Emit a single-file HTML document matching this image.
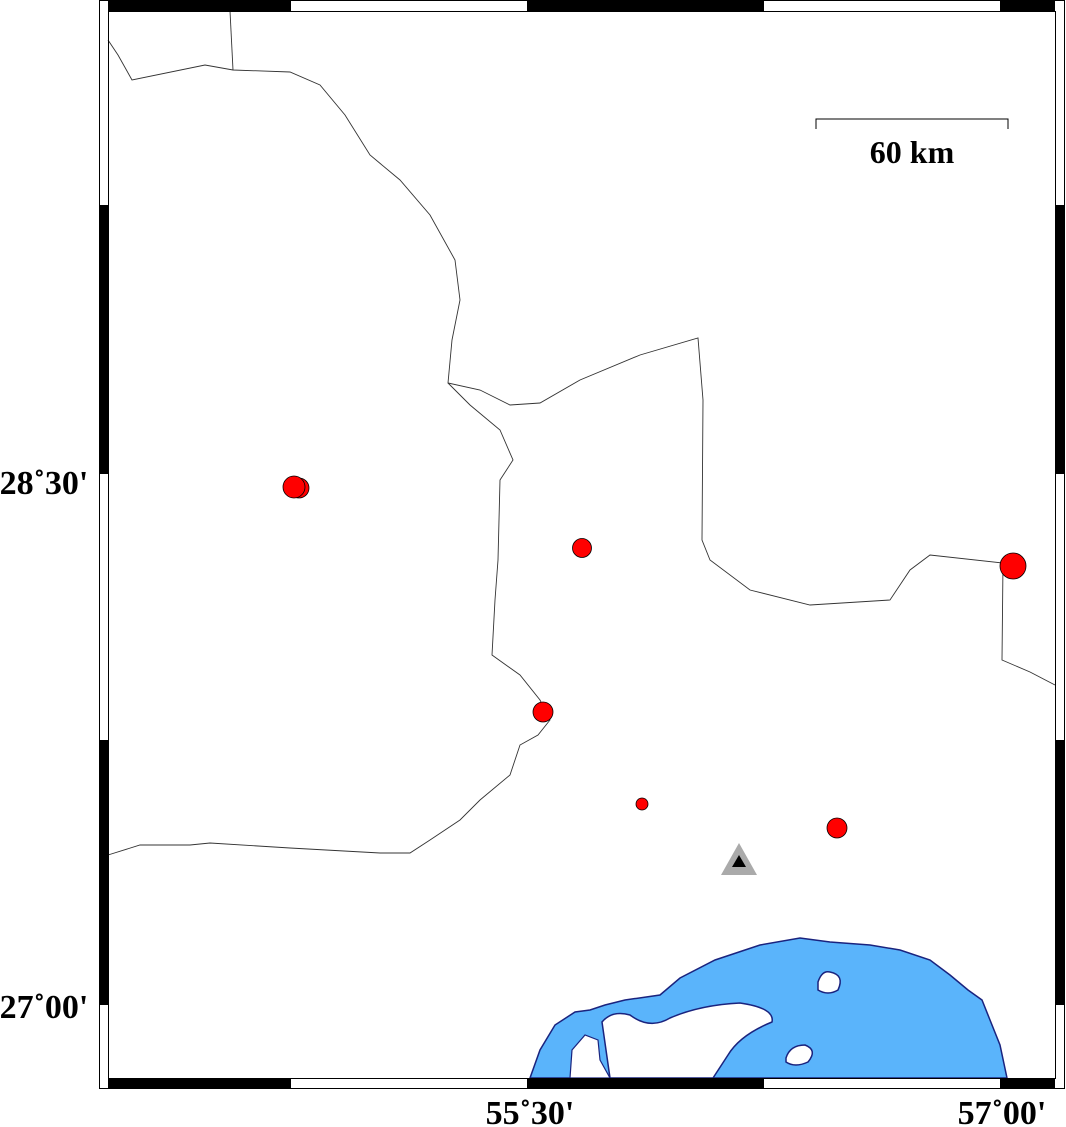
<!DOCTYPE html>
<html><head><style>body{margin:0;background:#fff}svg{display:block}</style></head><body>
<svg width="1066" height="1127" viewBox="0 0 1066 1127" xmlns="http://www.w3.org/2000/svg">
<rect width="1066" height="1127" fill="#fff"/>
<!-- sea -->
<path d="M530,1078 L540,1050 L555,1025 L575,1012 L590,1010 L605,1005 L625,1000 L660,995 L680,978 L715,960 L760,945 L800,938 L830,942 L870,945 L900,950 L930,960 L950,975 L968,990 L982,1000 L990,1020 L1000,1045 L1007,1078 Z" fill="#5ab4fb" stroke="#1a237e" stroke-width="1.5"/>
<path d="M602,1022 Q612,1010 630,1015 Q650,1030 670,1018 Q700,1005 740,1003 Q775,1008 772,1022 Q740,1035 728,1055 L713,1078 L610,1078 Z" fill="#fff" stroke="#1a237e" stroke-width="1.5"/>
<path d="M818,982 Q822,970 830,972 Q845,975 838,990 Q828,996 818,990 Z" fill="#fff" stroke="#1a237e" stroke-width="1.5"/>
<path d="M786,1058 Q790,1045 805,1045 Q818,1050 808,1062 Q795,1068 786,1062 Z" fill="#fff" stroke="#1a237e" stroke-width="1.5"/>
<path d="M570,1078 L572,1050 L585,1035 L598,1040 L600,1060 L610,1078 Z" fill="#fff" stroke="#1a237e" stroke-width="1.2"/>
<!-- borders -->
<g fill="none" stroke="#333" stroke-width="0.9">
<path d="M108,40 L118,55 L132,80 L205,65 L233,70 L290,72 L320,85 L345,115 L370,155 L400,180 L430,215 L455,260 L460,300 L452,340 L448,383 L480,390 L510,405 L540,403 L580,380 L640,355 L698,338 L703,400 L702,540 L710,560 L750,590 L810,605 L890,600 L910,570 L930,555 L1003,563 L1002,660 L1030,672 L1055,685"/>
<path d="M230,11 L233,70"/>
<path d="M448,383 L470,405 L500,430 L513,460 L500,480 L498,560 L495,600 L492,655 L520,675 L540,700 L550,720 L538,735 L520,745 L510,775 L480,800 L460,820 L430,840 L410,853 L380,853 L290,848 L210,843 L190,845 L140,845 L108,855"/>
</g>
<!-- events -->
<g fill="#ff0000" stroke="#000" stroke-width="0.8">
<circle cx="299" cy="488" r="10"/><circle cx="294" cy="487" r="11"/>
<circle cx="582" cy="548" r="9.5"/>
<circle cx="1013" cy="566" r="13"/>
<circle cx="543" cy="712" r="10"/>
<circle cx="642" cy="804" r="6"/>
<circle cx="837" cy="828" r="10"/>
</g>
<polygon points="739,843 721,875 757,875" fill="#aaa"/>
<polygon points="739,855 732,867 746,867" fill="#000"/>
<!-- scale -->
<path d="M816,129 L816,119 L1008,119 L1008,129" fill="none" stroke="#000" stroke-width="1"/>
<text x="912" y="163" font-family="Liberation Serif, serif" font-weight="bold" font-size="32" text-anchor="middle">60 km</text>
<!-- frame -->
<rect x="99.5" y="0.5" width="965" height="1088" fill="none" stroke="#000"/>
<rect x="108.5" y="11.5" width="947" height="1067" fill="none" stroke="#000"/>
<g fill="#000">
<rect x="108" y="0" width="183" height="11"/><rect x="527" y="0" width="237" height="11"/><rect x="1000" y="0" width="55" height="11"/>
<rect x="108" y="1078" width="183" height="10"/><rect x="527" y="1078" width="237" height="10"/><rect x="1000" y="1078" width="55" height="10"/>
<rect x="99" y="205" width="9" height="269"/><rect x="99" y="740" width="9" height="265"/>
<rect x="1055" y="205" width="9" height="269"/><rect x="1055" y="740" width="9" height="265"/>
</g>
<g font-family="Liberation Serif, serif" font-weight="bold" font-size="34">
<text x="44" y="494" text-anchor="middle">28˚30'</text>
<text x="44" y="1018" text-anchor="middle">27˚00'</text>
<text x="530" y="1124" text-anchor="middle">55˚30'</text>
<text x="1002" y="1124" text-anchor="middle">57˚00'</text>
</g>
</svg>
</body></html>
